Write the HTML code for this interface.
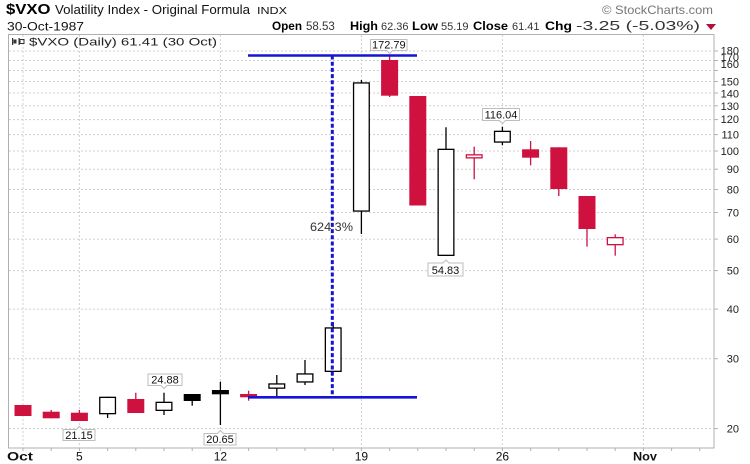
<!DOCTYPE html>
<html>
<head>
<meta charset="utf-8">
<style>
  html, body { margin: 0; padding: 0; background: #fff; }
  svg { display: block; }
  text { font-family: "Liberation Sans", "DejaVu Sans", sans-serif; }
</style>
</head>
<body>
<svg width="750" height="464" viewBox="0 0 750 464" xmlns="http://www.w3.org/2000/svg">
  <rect x="0" y="0" width="750" height="464" fill="#fff"/>

  <!-- Header -->
  <text x="6" y="14" font-size="14.5" font-weight="bold" fill="#000" textLength="44.5" lengthAdjust="spacingAndGlyphs">$VXO</text>
  <text x="55" y="14" font-size="12.5" fill="#111" textLength="195" lengthAdjust="spacingAndGlyphs">Volatility Index - Original Formula</text>
  <text x="257" y="14" font-size="10" fill="#111" textLength="30" lengthAdjust="spacingAndGlyphs">INDX</text>
  <text x="7" y="30.5" font-size="11.5" fill="#111" textLength="77" lengthAdjust="spacingAndGlyphs">30-Oct-1987</text>
  <text x="602" y="14" font-size="12" fill="#777" textLength="111" lengthAdjust="spacingAndGlyphs">© StockCharts.com</text>

  <g font-size="12" fill="#000">
    <text x="272" y="30" font-weight="bold" textLength="30" lengthAdjust="spacingAndGlyphs">Open</text>
    <text x="306" y="30" fill="#333" font-size="11.5">58.53</text>
    <text x="350" y="30" font-weight="bold" textLength="28" lengthAdjust="spacingAndGlyphs">High</text>
    <text x="381" y="30" fill="#333" font-size="11">62.36</text>
    <text x="412" y="30" font-weight="bold" textLength="26" lengthAdjust="spacingAndGlyphs">Low</text>
    <text x="441" y="30" fill="#333" font-size="11">55.19</text>
    <text x="473" y="30" font-weight="bold" textLength="35" lengthAdjust="spacingAndGlyphs">Close</text>
    <text x="512" y="30" fill="#333" font-size="11">61.41</text>
    <text x="545" y="30" font-weight="bold" textLength="27" lengthAdjust="spacingAndGlyphs">Chg</text>
    <text x="576" y="30" fill="#333" font-size="12.5" textLength="124" lengthAdjust="spacingAndGlyphs">-3.25 (-5.03%)</text>
  </g>
  <polygon points="706,24 716,24 711,30" fill="#b0103a"/>

  <!-- Plot frame -->
  <rect x="8.5" y="34.5" width="705.5" height="413.5" fill="#fff" stroke="#b0b0b0" stroke-width="1"/>

  <!-- Horizontal gridlines -->
  <g stroke="#cfcfcf" stroke-width="1" stroke-dasharray="2,2">
    <line x1="9" y1="428.6" x2="713" y2="428.6"/>
    <line x1="9" y1="358.7" x2="713" y2="358.7"/>
    <line x1="9" y1="309.1" x2="713" y2="309.1"/>
    <line x1="9" y1="270.6" x2="713" y2="270.6"/>
    <line x1="9" y1="239.1" x2="713" y2="239.1"/>
    <line x1="9" y1="212.5" x2="713" y2="212.5"/>
    <line x1="9" y1="189.5" x2="713" y2="189.5"/>
    <line x1="9" y1="169.2" x2="713" y2="169.2"/>
    <line x1="9" y1="151.0" x2="713" y2="151.0"/>
    <line x1="9" y1="134.6" x2="713" y2="134.6"/>
    <line x1="9" y1="119.6" x2="713" y2="119.6"/>
    <line x1="9" y1="105.8" x2="713" y2="105.8"/>
    <line x1="9" y1="93.0" x2="713" y2="93.0"/>
    <line x1="9" y1="81.5" x2="713" y2="81.5"/>
    <line x1="9" y1="70.5" x2="713" y2="70.5"/>
    <line x1="9" y1="60.5" x2="713" y2="60.5"/>
    <line x1="9" y1="51" x2="713" y2="51"/>
  </g>
  <!-- Vertical gridlines -->
  <g stroke="#cfcfcf" stroke-width="1" stroke-dasharray="2,2">
    <line x1="23" y1="35" x2="23" y2="448"/>
    <line x1="79.4" y1="35" x2="79.4" y2="448"/>
    <line x1="220.4" y1="35" x2="220.4" y2="448"/>
    <line x1="361.4" y1="35" x2="361.4" y2="448"/>
    <line x1="502.4" y1="35" x2="502.4" y2="448"/>
    <line x1="643.4" y1="35" x2="643.4" y2="448"/>
  </g>

  <!-- Legend -->
  <g fill="#333">
    <rect x="12" y="38" width="1.2" height="7"/>
    <rect x="13.5" y="39.5" width="3" height="4"/>
    <rect x="18.5" y="38" width="1.2" height="7"/>
    <rect x="20" y="39.5" width="4" height="4" fill="none" stroke="#333" stroke-width="1"/>
  </g>
  <text x="29" y="45.5" font-family="DejaVu Sans, Liberation Sans, sans-serif" font-size="11" fill="#222" textLength="188" lengthAdjust="spacingAndGlyphs">$VXO (Daily) 61.41 (30 Oct)</text>

  <!-- Right axis ticks & labels -->
  <g stroke="#b0b0b0" stroke-width="1">
    <line x1="714" y1="428.6" x2="718" y2="428.6"/>
    <line x1="714" y1="358.7" x2="718" y2="358.7"/>
    <line x1="714" y1="309.1" x2="718" y2="309.1"/>
    <line x1="714" y1="270.6" x2="718" y2="270.6"/>
    <line x1="714" y1="239.1" x2="718" y2="239.1"/>
    <line x1="714" y1="212.5" x2="718" y2="212.5"/>
    <line x1="714" y1="189.5" x2="718" y2="189.5"/>
    <line x1="714" y1="169.2" x2="718" y2="169.2"/>
    <line x1="714" y1="151.0" x2="718" y2="151.0"/>
    <line x1="714" y1="134.6" x2="718" y2="134.6"/>
    <line x1="714" y1="119.6" x2="718" y2="119.6"/>
    <line x1="714" y1="105.8" x2="718" y2="105.8"/>
    <line x1="714" y1="93.0" x2="718" y2="93.0"/>
    <line x1="714" y1="81.5" x2="718" y2="81.5"/>
    <line x1="714" y1="70.5" x2="718" y2="70.5"/>
    <line x1="714" y1="60.5" x2="718" y2="60.5"/>
    <line x1="714" y1="51" x2="718" y2="51"/>
  </g>
  <g font-size="11" fill="#222" text-anchor="end">
    <text x="739" y="432.6">20</text>
    <text x="739" y="362.7">30</text>
    <text x="739" y="313.1">40</text>
    <text x="739" y="274.6">50</text>
    <text x="739" y="243.1">60</text>
    <text x="739" y="216.5">70</text>
    <text x="739" y="193.5">80</text>
    <text x="739" y="173.2">90</text>
    <text x="739" y="155.0">100</text>
    <text x="739" y="138.6">110</text>
    <text x="739" y="123.2">120</text>
    <text x="739" y="109.8">130</text>
    <text x="739" y="97.6">140</text>
    <text x="739" y="85.3">150</text>
    <text x="739" y="67.8">160</text>
    <text x="739" y="61">170</text>
    <text x="739" y="54.5">180</text>
  </g>

  <!-- Bottom axis ticks -->
  <g stroke="#b0b0b0" stroke-width="1">
    <line x1="23" y1="448" x2="23" y2="451"/>
    <line x1="51.2" y1="448" x2="51.2" y2="451"/>
    <line x1="79.4" y1="448" x2="79.4" y2="451"/>
    <line x1="107.6" y1="448" x2="107.6" y2="451"/>
    <line x1="135.8" y1="448" x2="135.8" y2="451"/>
    <line x1="164" y1="448" x2="164" y2="451"/>
    <line x1="192.2" y1="448" x2="192.2" y2="451"/>
    <line x1="220.4" y1="448" x2="220.4" y2="451"/>
    <line x1="248.6" y1="448" x2="248.6" y2="451"/>
    <line x1="276.8" y1="448" x2="276.8" y2="451"/>
    <line x1="305" y1="448" x2="305" y2="451"/>
    <line x1="333.2" y1="448" x2="333.2" y2="451"/>
    <line x1="361.4" y1="448" x2="361.4" y2="451"/>
    <line x1="389.6" y1="448" x2="389.6" y2="451"/>
    <line x1="417.8" y1="448" x2="417.8" y2="451"/>
    <line x1="446" y1="448" x2="446" y2="451"/>
    <line x1="474.2" y1="448" x2="474.2" y2="451"/>
    <line x1="502.4" y1="448" x2="502.4" y2="451"/>
    <line x1="530.6" y1="448" x2="530.6" y2="451"/>
    <line x1="558.8" y1="448" x2="558.8" y2="451"/>
    <line x1="587" y1="448" x2="587" y2="451"/>
    <line x1="615.2" y1="448" x2="615.2" y2="451"/>
    <line x1="643.4" y1="448" x2="643.4" y2="451"/>
    <line x1="671.6" y1="448" x2="671.6" y2="451"/>
    <line x1="699.8" y1="448" x2="699.8" y2="451"/>
  </g>
  <g font-size="12" fill="#111">
    <text x="7" y="460.7" font-weight="bold" textLength="26" lengthAdjust="spacingAndGlyphs">Oct</text>
    <text x="79.4" y="460.7" text-anchor="middle">5</text>
    <text x="220.4" y="460.7" text-anchor="middle">12</text>
    <text x="361.4" y="460.7" text-anchor="middle">19</text>
    <text x="502.4" y="460.7" text-anchor="middle">26</text>
    <text x="633" y="460.7" font-weight="bold" textLength="24" lengthAdjust="spacingAndGlyphs">Nov</text>
  </g>

  <!-- Candles -->
  <g stroke-width="1.3">
    <rect x="14.5" y="405" width="17" height="11" fill="#cf1140"/>
    <line x1="51.2" y1="410" x2="51.2" y2="418.3" stroke="#cf1140"/>
    <rect x="42.7" y="411.7" width="17" height="6.6" fill="#cf1140"/>
    <line x1="79.4" y1="410" x2="79.4" y2="421" stroke="#cf1140"/>
    <rect x="70.9" y="412.7" width="17" height="8.3" fill="#cf1140"/>
    <line x1="107.6" y1="396.7" x2="107.6" y2="418" stroke="#000"/>
    <rect x="99.75" y="397.35" width="15.7" height="16.3" fill="#fff" stroke="#000"/>
    <line x1="135.8" y1="392.7" x2="135.8" y2="413" stroke="#cf1140"/>
    <rect x="127.3" y="399" width="17" height="14" fill="#cf1140"/>
    <line x1="164" y1="392.7" x2="164" y2="415" stroke="#000"/>
    <rect x="156.15" y="402.35" width="15.7" height="8" fill="#fff" stroke="#000"/>
    <line x1="192.2" y1="394" x2="192.2" y2="405.7" stroke="#000"/>
    <rect x="183.7" y="394" width="17" height="7" fill="#000"/>
    <line x1="220.4" y1="381.7" x2="220.4" y2="425" stroke="#000"/>
    <rect x="211.9" y="390" width="17" height="4.3" fill="#000"/>
    <line x1="248.6" y1="390.7" x2="248.6" y2="400.7" stroke="#cf1140"/>
    <rect x="240.1" y="394" width="17" height="3.3" fill="#cf1140"/>
    <line x1="276.8" y1="375" x2="276.8" y2="397" stroke="#000"/>
    <rect x="268.95" y="383.95" width="15.7" height="4.2" fill="#fff" stroke="#000"/>
    <line x1="305" y1="360" x2="305" y2="385" stroke="#000"/>
    <rect x="297.15" y="373.95" width="15.7" height="8" fill="#fff" stroke="#000"/>
    <line x1="333.2" y1="322" x2="333.2" y2="372" stroke="#000"/>
    <rect x="325.35" y="327.95" width="15.7" height="43.4" fill="#fff" stroke="#000"/>
    <line x1="361.4" y1="80" x2="361.4" y2="234" stroke="#000"/>
    <rect x="353.55" y="82.95" width="15.7" height="128.1" fill="#fff" stroke="#000"/>
    <line x1="389.6" y1="55.5" x2="389.6" y2="97" stroke="#cf1140"/>
    <rect x="381.1" y="60" width="17" height="35.7" fill="#cf1140"/>
    <rect x="409.3" y="96" width="17" height="109.5" fill="#cf1140"/>
    <line x1="446" y1="127.3" x2="446" y2="256" stroke="#000"/>
    <rect x="438.15" y="149.35" width="15.7" height="106" fill="#fff" stroke="#000"/>
    <line x1="474.2" y1="146.7" x2="474.2" y2="179.3" stroke="#cf1140"/>
    <rect x="466.35" y="154.85" width="15.7" height="3" fill="#fff" stroke="#cf1140"/>
    <line x1="502.4" y1="126.7" x2="502.4" y2="145.3" stroke="#000"/>
    <rect x="494.55" y="131.35" width="15.7" height="10.7" fill="#fff" stroke="#000"/>
    <line x1="530.6" y1="141" x2="530.6" y2="165.3" stroke="#cf1140"/>
    <rect x="522.1" y="149.3" width="17" height="8.4" fill="#cf1140"/>
    <line x1="558.8" y1="147.3" x2="558.8" y2="196" stroke="#cf1140"/>
    <rect x="550.3" y="147.3" width="17" height="41.7" fill="#cf1140"/>
    <line x1="587" y1="196" x2="587" y2="246.7" stroke="#cf1140"/>
    <rect x="578.5" y="196" width="17" height="33" fill="#cf1140"/>
    <line x1="615.2" y1="234.3" x2="615.2" y2="255.7" stroke="#cf1140"/>
    <rect x="607.35" y="237.65" width="15.7" height="7" fill="#fff" stroke="#cf1140"/>
  </g>

  <!-- Blue annotation lines -->
  <line x1="248" y1="55.5" x2="417" y2="55.5" stroke="#1414d2" stroke-width="2.6"/>
  <line x1="248" y1="397.3" x2="417" y2="397.3" stroke="#1414d2" stroke-width="2.6"/>
  <line x1="332.3" y1="55.5" x2="332.3" y2="397.3" stroke="#1414d2" stroke-width="3" stroke-dasharray="4,2.2"/>
  <text x="353" y="231" font-size="11.5" fill="#333" text-anchor="end" textLength="43" lengthAdjust="spacingAndGlyphs">624.3%</text>

  <!-- Value labels -->
  <g fill="#fff" stroke="#bdbdbd" stroke-width="1">
    <path d="M63 429.5 H76.4 L79.4 426.5 L82.4 429.5 H95 V440.5 H63 Z"/>
    <path d="M204 433.5 H217.4 L220.4 430.5 L223.4 433.5 H236 V445 H204 Z"/>
    <path d="M428 263 H443 L446 260 L449 263 H463 V276 H428 Z"/>
    <path d="M148 374 H182 V385.5 H167 L164 388.5 L161 385.5 H148 Z"/>
    <path d="M370.5 39.5 H407 V50.5 H392.6 L389.6 53.5 L386.6 50.5 H370.5 Z"/>
    <path d="M482.5 108.5 H519.5 V120.5 H505.4 L502.4 123.5 L499.4 120.5 H482.5 Z"/>
  </g>
  <g font-size="11" fill="#111" text-anchor="middle">
    <text x="79" y="438.8">21.15</text>
    <text x="220" y="443.2">20.65</text>
    <text x="445.5" y="273.8">54.83</text>
    <text x="165" y="383.6">24.88</text>
    <text x="388.8" y="48.6">172.79</text>
    <text x="501" y="118.7">116.04</text>
  </g>
</svg>
</body>
</html>
